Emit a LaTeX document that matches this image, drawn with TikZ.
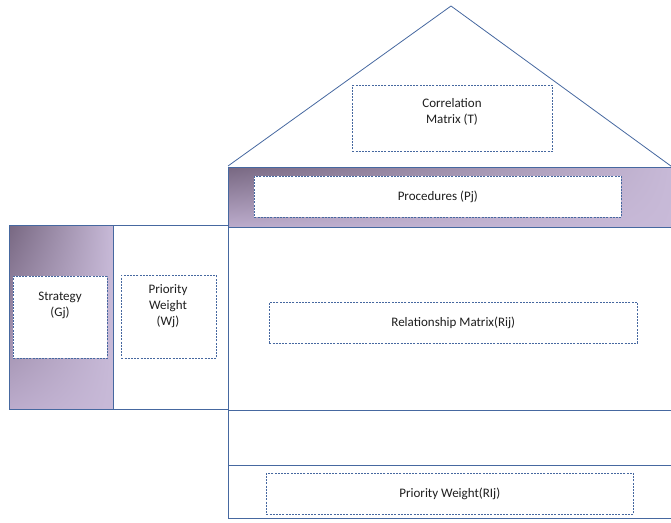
\documentclass[tikz,border=0pt]{standalone}
\usepackage{fontspec}
\setmainfont{Carlito}
\usetikzlibrary{shadings}
\definecolor{lineblue}{RGB}{70,104,160}
\definecolor{pdark}{RGB}{120,104,130}
\definecolor{plight}{RGB}{200,186,216}
\definecolor{pmid}{RGB}{188,172,204}
\definecolor{txt}{RGB}{30,30,30}
\begin{document}
\begin{tikzpicture}[x=1pt,y=-1pt,
  frame/.style={draw=lineblue,line width=0.9pt,anchor=north west,inner sep=0pt},
  dbox/.style={draw=lineblue,line width=0.6pt,dash pattern=on 2pt off 1.2pt,fill=white,anchor=north west,inner sep=0pt},
  lbl/.style={text=txt,font=\fontsize{13}{16}\selectfont,align=center,inner sep=0pt},
  purp/.style={upper left=pdark,upper right=plight,lower left=pmid,lower right=plight}]
\useasboundingbox (0,0) rectangle (671,522);
% roof
\coordinate (apex) at (451,6);
\coordinate (roofL) at (228,166);
\coordinate (roofR) at (675,169);
\draw[lineblue,line width=0.8pt] (roofL) -- (apex) -- (roofR);
% procedures band
\node[frame,purp,minimum width=447pt,minimum height=60pt] (proc) at (228,167) {};
% main relationship area
\node[frame,minimum width=447pt,minimum height=183pt] (rel) at (228,227) {};
\node[frame,minimum width=447pt,minimum height=55pt] (empty) at (228,410) {};
\node[frame,minimum width=447pt,minimum height=53pt] (bottom) at (228,465) {};
% left side
\node[frame,purp,minimum width=104pt,minimum height=184pt] (strat) at (9,225) {};
\node[frame,minimum width=115pt,minimum height=184pt] (pw) at (113,225) {};
% dashed boxes
\node[dbox,minimum width=200pt,minimum height=66pt] (corrbox) at (352,85) {};
\node[dbox,minimum width=367pt,minimum height=41pt] (procbox) at (254,176) {};
\node[dbox,minimum width=368pt,minimum height=41pt] (relbox) at (269,302) {};
\node[dbox,minimum width=367pt,minimum height=41pt] (rwbox) at (266,473) {};
\node[dbox,minimum width=94pt,minimum height=82pt] (stratbox) at (13,276) {};
\node[dbox,minimum width=95pt,minimum height=83pt] (pwbox) at (121,275) {};
% labels
\node[lbl] (corrt) at (452,112) {Correlation\\Matrix (T)};
\node[lbl] (proct) at (procbox.center) {Procedures (Pj)};
\node[lbl] (relt) at (relbox.center) {Relationship Matrix(Rij)};
\node[lbl] (rwt) at (rwbox.center) {Priority Weight(RIj)};
\node[lbl] (stratt) at (60,305) {Strategy\\(Gj)};
\node[lbl] (pwt) at (168,306) {Priority\\Weight\\(Wj)};
\end{tikzpicture}
\end{document}
